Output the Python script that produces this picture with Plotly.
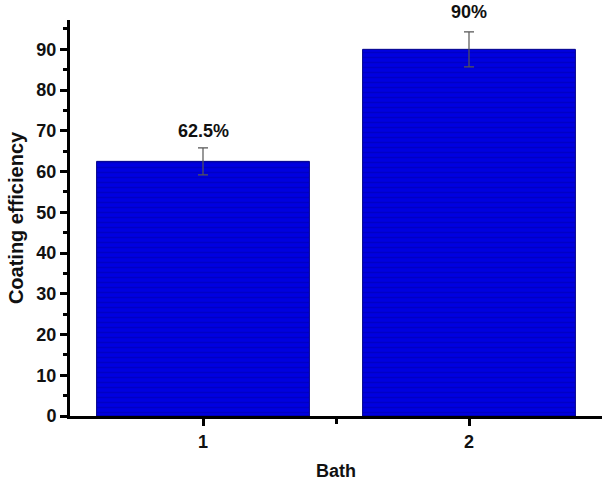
import plotly.graph_objects as go

baths = [1, 2]
efficiency = [62.5, 90.0]
errors = [3.3, 4.3]
labels = ["62.5%", "90%"]
label_shift = [5, 8]

fig = go.Figure()
fig.add_trace(go.Bar(
    x=baths, y=efficiency, width=0.8,
    marker=dict(color="#0000E0", line=dict(color="#00008A", width=1),
                pattern=dict(shape="-", fgcolor="#0000A8", bgcolor="#0000E0", size=5, solidity=0.3)),
    error_y=dict(type="data", array=errors, visible=True, color="#555555", thickness=1.2, width=5),
    showlegend=False,
))
for b, v, e, t, s in zip(baths, efficiency, errors, labels, label_shift):
    fig.add_annotation(x=b, y=v + e, text=t, showarrow=False, yanchor="bottom", yshift=s,
                       font=dict(family="Liberation Sans, Arial", size=18, color="#111111", weight="bold"))

tick_font = dict(family="Liberation Sans, Arial", size=18, color="#111111", weight="bold")
fig.update_layout(
    width=610, height=482,
    margin=dict(l=70, r=8, t=20, b=66),
    paper_bgcolor="white", plot_bgcolor="white",
    xaxis=dict(range=[0.5, 2.5], tickvals=[1, 2], ticks="outside", ticklen=7, tickwidth=2.5,
               showline=True, linecolor="black", linewidth=3, showgrid=False, zeroline=False,
               minor=dict(tickvals=[1.5], ticks="outside", ticklen=5, tickwidth=2.5, tickcolor="black"),
               tickfont=tick_font, tickcolor="black", automargin=False,
               title=dict(text="Bath", font=dict(family="Liberation Sans, Arial", size=18, color="#111111", weight="bold"),
                          standoff=14)),
    yaxis=dict(range=[0, 97.2], tickvals=list(range(0, 100, 10)), ticks="outside", ticklen=7, tickwidth=2.5,
               showline=True, linecolor="black", linewidth=3, showgrid=False, zeroline=False,
               minor=dict(dtick=5, ticks="outside", ticklen=4, tickwidth=2.5, tickcolor="black"),
               tickfont=tick_font, tickcolor="black", automargin=False,
               title=dict(text="Coating efficiency", font=dict(family="Liberation Sans, Arial", size=20, color="#111111", weight="bold"),
                          standoff=8)),
)
fig.write_html("out.html")
